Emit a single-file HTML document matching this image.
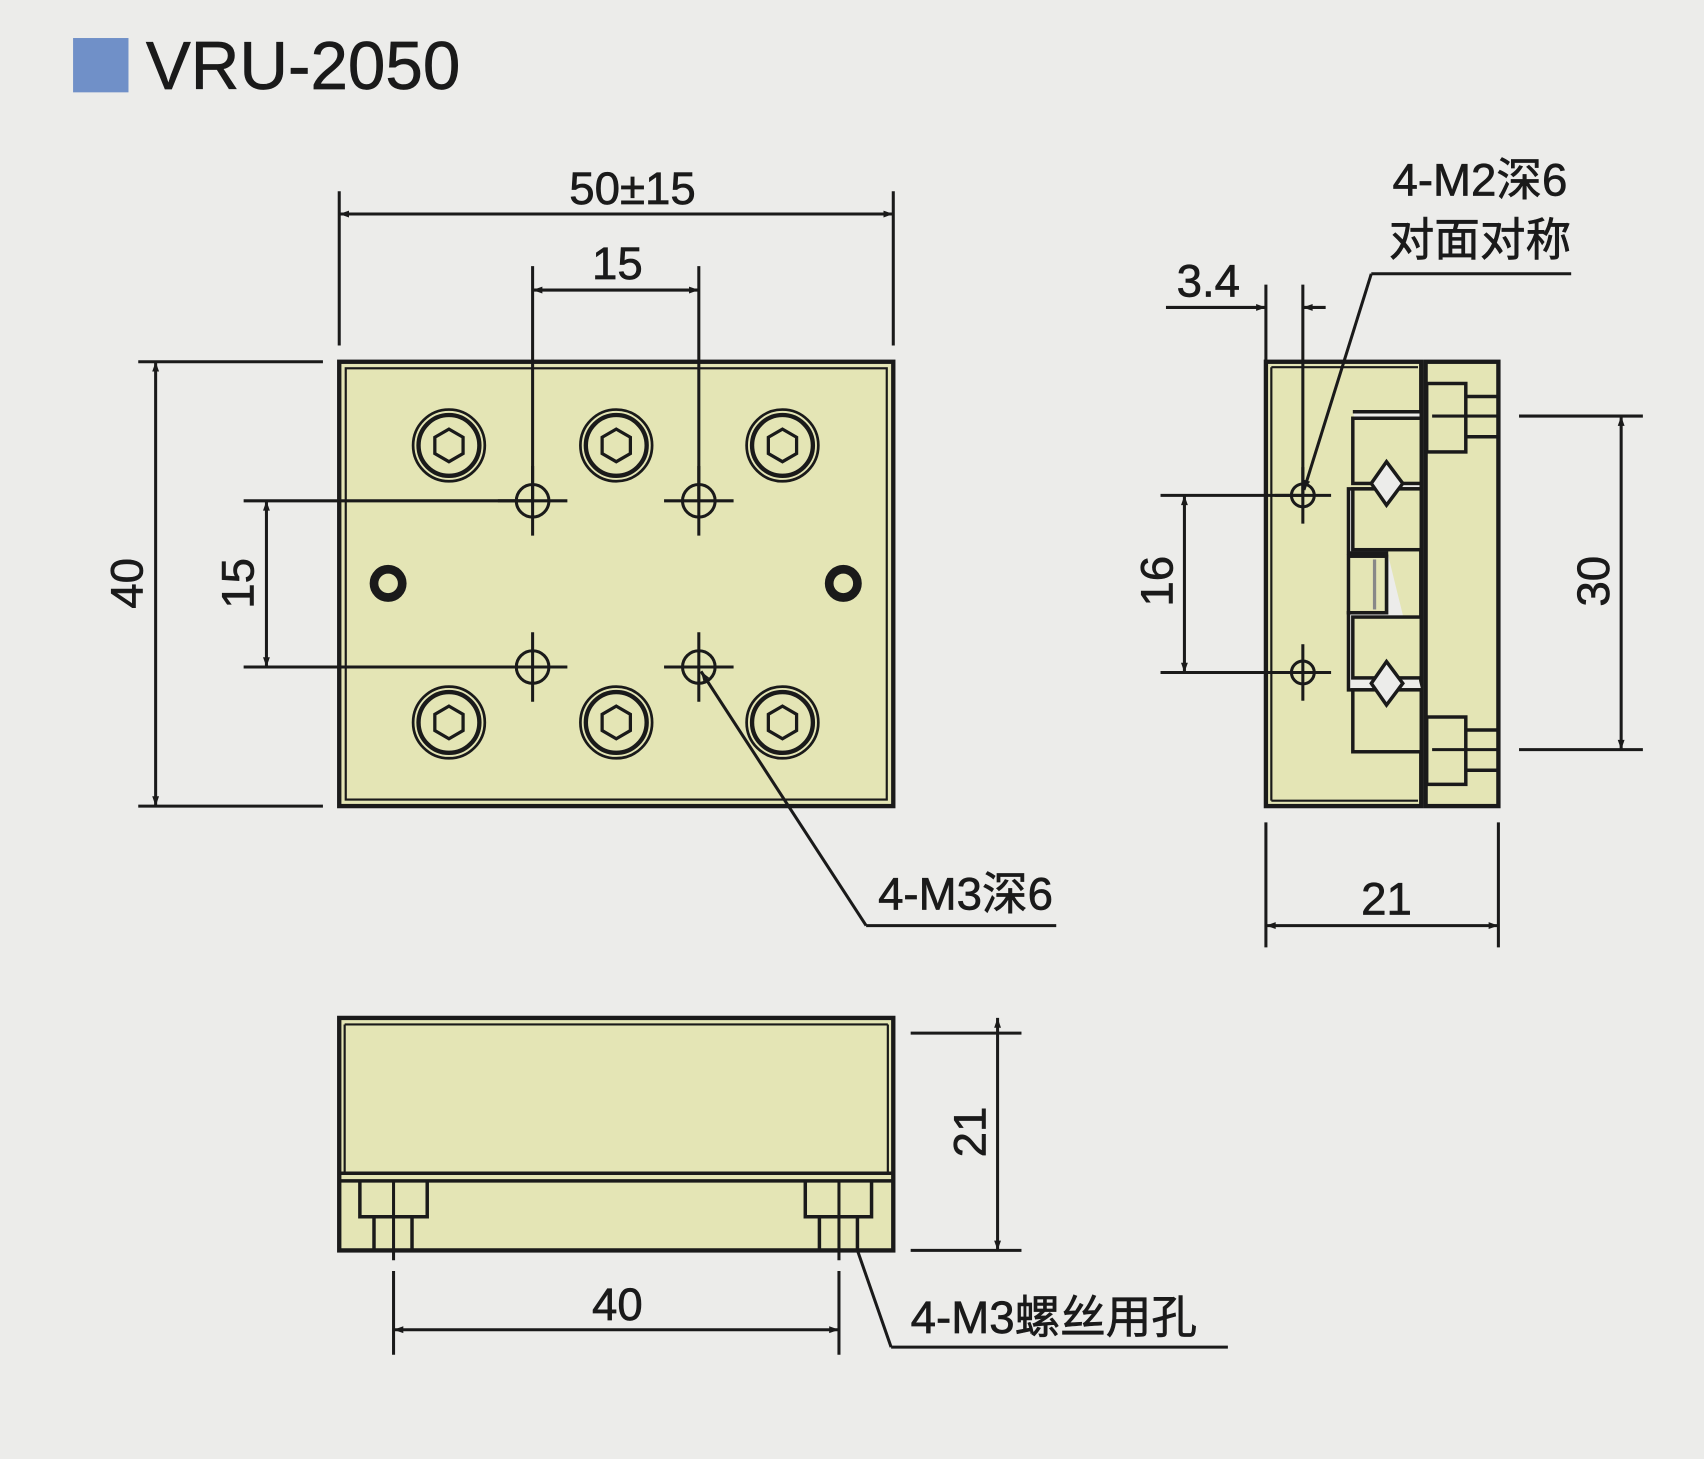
<!DOCTYPE html>
<html><head><meta charset="utf-8"><style>
html,body{margin:0;padding:0;background:#ececea;}
svg{display:block}
text{font-family:"Liberation Sans","Noto Sans CJK SC",sans-serif;fill:#1a1a1a;stroke:#1a1a1a;stroke-width:0.6}
</style></head><body>
<svg width="1704" height="1459" viewBox="0 0 1568 1343" xmlns="http://www.w3.org/2000/svg">
<defs>
<marker id="a" viewBox="0 0 10 10" refX="10" refY="5" markerWidth="16" markerHeight="9" orient="auto-start-reverse" markerUnits="userSpaceOnUse"><path d="M0,1.5 L10,5 L0,8.5 Z" fill="#1a1a1a"/></marker>
<g id="scr">
<circle r="33" fill="none" stroke="#1a1a1a" stroke-width="2.5"/>
<circle r="28" fill="none" stroke="#1a1a1a" stroke-width="4"/>
<polygon points="0,-15 13,-7.5 13,7.5 0,15 -13,7.5 -13,-7.5" fill="none" stroke="#1a1a1a" stroke-width="3"/>
</g>
<g id="hole">
<circle r="15" fill="none" stroke="#1a1a1a" stroke-width="2.8"/>
<line x1="-32" y1="0" x2="32" y2="0" stroke="#1a1a1a" stroke-width="2.8"/>
<line x1="0" y1="-32" x2="0" y2="32" stroke="#1a1a1a" stroke-width="2.8"/>
</g>
<g id="sh">
<circle r="10.5" fill="none" stroke="#1a1a1a" stroke-width="2.8"/>
<line x1="-26" y1="0" x2="26" y2="0" stroke="#1a1a1a" stroke-width="2.8"/>
<line x1="0" y1="-26" x2="0" y2="26" stroke="#1a1a1a" stroke-width="2.8"/>
</g>
</defs>
<rect x="67" y="35" width="51" height="50" fill="#7090c8"/>
<text x="134" y="82" font-size="62">VRU-2050</text>

<g stroke="#1a1a1a" fill="none">
<!-- top view -->
<rect x="312" y="333" width="510" height="409" fill="#e4e5b5" stroke-width="4"/>
<rect x="318" y="339" width="498" height="397" stroke-width="2"/>
<use href="#scr" x="413" y="410"/><use href="#scr" x="567" y="410"/><use href="#scr" x="720" y="410"/>
<use href="#scr" x="413" y="665"/><use href="#scr" x="567" y="665"/><use href="#scr" x="720" y="665"/>
<circle cx="357" cy="537" r="13" stroke-width="8"/>
<circle cx="776" cy="537" r="13" stroke-width="8"/>
<g stroke-width="2.8">
<line x1="312" y1="176" x2="312" y2="318"/><line x1="822" y1="176" x2="822" y2="318"/>
<line x1="312" y1="197" x2="822" y2="197" marker-start="url(#a)" marker-end="url(#a)"/>
<line x1="490" y1="245" x2="490" y2="461"/><line x1="643" y1="245" x2="643" y2="461"/>
<line x1="490" y1="267" x2="643" y2="267" marker-start="url(#a)" marker-end="url(#a)"/>
<line x1="127" y1="333" x2="297" y2="333"/><line x1="127" y1="742" x2="297" y2="742"/>
<line x1="143" y1="333" x2="143" y2="742" marker-start="url(#a)" marker-end="url(#a)"/>
<line x1="224" y1="461" x2="490" y2="461"/><line x1="224" y1="614" x2="490" y2="614"/>
<line x1="245" y1="461" x2="245" y2="614" marker-start="url(#a)" marker-end="url(#a)"/>
<line x1="797" y1="852" x2="645" y2="618" marker-end="url(#a)"/>
<line x1="797" y1="852" x2="972" y2="852"/>
</g>
<use href="#hole" x="490" y="461"/><use href="#hole" x="643" y="461"/>
<use href="#hole" x="490" y="614"/><use href="#hole" x="643" y="614"/>

<!-- side view -->
<rect x="1165" y="333" width="143" height="409" fill="#e4e5b5" stroke-width="4"/>
<line x1="1170" y1="338" x2="1170" y2="737" stroke-width="2"/>
<line x1="1170" y1="338" x2="1305" y2="338" stroke-width="2"/>
<line x1="1170" y1="737" x2="1305" y2="737" stroke-width="2"/>
<rect x="1312" y="333" width="67" height="409" fill="#e4e5b5" stroke-width="4"/>
<g stroke-width="3.2">
<path d="M1245,379 H1308 V450 H1241 V509 H1276 V564 H1241 V635 H1308" fill="#ececea"/>
<rect x="1245" y="385" width="63" height="60" fill="#e4e5b5"/>
<rect x="1245" y="450" width="63" height="56" fill="#e4e5b5"/>
<rect x="1241" y="512" width="35" height="52" fill="#e4e5b5"/>
<rect x="1245" y="568" width="63" height="56" fill="#e4e5b5"/>
<rect x="1245" y="635" width="63" height="57" fill="#e4e5b5"/>
<polygon points="1276,425 1291,445 1276,465 1262,445" fill="#ececea"/>
<polygon points="1276,609 1291,629 1276,649 1262,629" fill="#ececea"/>
<rect x="1313" y="353" width="36" height="63"/>
<line x1="1349" y1="365" x2="1379" y2="365"/><line x1="1349" y1="402" x2="1379" y2="402"/>
<rect x="1313" y="660" width="36" height="62"/>
<line x1="1349" y1="672" x2="1379" y2="672"/><line x1="1349" y1="709" x2="1379" y2="709"/>
</g>
<line x1="1265" y1="515" x2="1265" y2="561" stroke="#888" stroke-width="3"/>
<g stroke-width="2.8">
<line x1="1165" y1="262" x2="1165" y2="333"/><line x1="1199" y1="262" x2="1199" y2="456"/>
<line x1="1073" y1="283" x2="1165" y2="283" marker-end="url(#a)"/>
<line x1="1220" y1="283" x2="1199" y2="283" marker-end="url(#a)"/>
<line x1="1068" y1="456" x2="1199" y2="456"/><line x1="1068" y1="619" x2="1199" y2="619"/>
<line x1="1090" y1="456" x2="1090" y2="619" marker-start="url(#a)" marker-end="url(#a)"/>
<line x1="1262" y1="252" x2="1446" y2="252"/>
<line x1="1262" y1="252" x2="1200" y2="451" marker-end="url(#a)"/>
<line x1="1318" y1="383" x2="1380" y2="383"/><line x1="1398" y1="383" x2="1512" y2="383"/>
<line x1="1318" y1="690" x2="1380" y2="690"/><line x1="1398" y1="690" x2="1512" y2="690"/>
<line x1="1492" y1="383" x2="1492" y2="690" marker-start="url(#a)" marker-end="url(#a)"/>
<line x1="1165" y1="757" x2="1165" y2="872"/><line x1="1379" y1="757" x2="1379" y2="872"/>
<line x1="1165" y1="852" x2="1379" y2="852" marker-start="url(#a)" marker-end="url(#a)"/>
</g>
<use href="#sh" x="1199" y="456"/><use href="#sh" x="1199" y="619"/>

<!-- front view -->
<rect x="312" y="937" width="510" height="214" fill="#e4e5b5" stroke-width="4"/>
<line x1="317" y1="943" x2="817" y2="943" stroke-width="2"/>
<line x1="317" y1="943" x2="317" y2="1080" stroke-width="2"/>
<line x1="817" y1="943" x2="817" y2="1080" stroke-width="2"/>
<line x1="312" y1="1080" x2="822" y2="1080" stroke-width="3.2"/>
<line x1="312" y1="1087" x2="822" y2="1087" stroke-width="3.2"/>
<g stroke-width="3.2">
<path d="M331,1087 V1120 H393 V1087"/>
<line x1="344" y1="1120" x2="344" y2="1151"/><line x1="379" y1="1120" x2="379" y2="1151"/>
<path d="M741,1087 V1120 H802 V1087"/>
<line x1="754" y1="1120" x2="754" y2="1151"/><line x1="789" y1="1120" x2="789" y2="1151"/>
</g>
<g stroke-width="2.8">
<line x1="362" y1="1087" x2="362" y2="1160"/><line x1="772" y1="1087" x2="772" y2="1160"/>
<line x1="362" y1="1170" x2="362" y2="1247"/><line x1="772" y1="1170" x2="772" y2="1247"/>
<line x1="362" y1="1224" x2="772" y2="1224" marker-start="url(#a)" marker-end="url(#a)"/>
<line x1="838" y1="951" x2="940" y2="951"/><line x1="838" y1="1151" x2="940" y2="1151"/>
<line x1="918" y1="937" x2="918" y2="1151" marker-start="url(#a)" marker-end="url(#a)"/>
<line x1="789" y1="1151" x2="820" y2="1240"/><line x1="820" y1="1240" x2="1130" y2="1240"/>
</g>
</g>

<g font-size="42">
<text x="582" y="188" text-anchor="middle">50±15</text>
<text x="568" y="257" text-anchor="middle">15</text>
<text x="808" y="837">4-M3深6</text>
<text x="1112" y="273" text-anchor="middle">3.4</text>
<text x="1362" y="180" text-anchor="middle">4-M2深6</text>
<text x="1362" y="235" text-anchor="middle">对面对称</text>
<text x="1276" y="842" text-anchor="middle">21</text>
<text x="568" y="1215" text-anchor="middle">40</text>
<text x="838" y="1227">4-M3螺丝用孔</text>
<text transform="translate(131,537) rotate(-90)" text-anchor="middle">40</text>
<text transform="translate(233,537) rotate(-90)" text-anchor="middle">15</text>
<text transform="translate(1079,535) rotate(-90)" text-anchor="middle">16</text>
<text transform="translate(1481,535) rotate(-90)" text-anchor="middle">30</text>
<text transform="translate(907,1042) rotate(-90)" text-anchor="middle">21</text>
</g>
</svg>
</body></html>
